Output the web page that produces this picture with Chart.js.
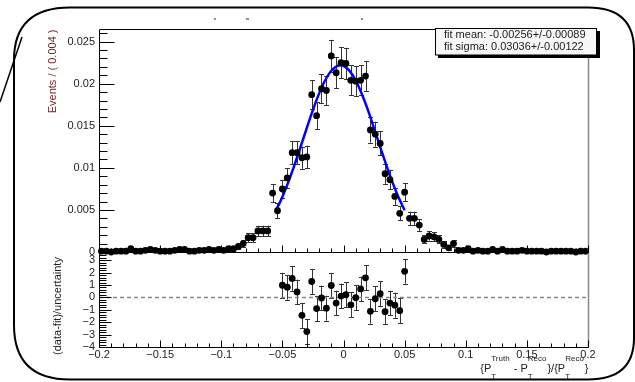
<!DOCTYPE html>
<html>
<head>
<meta charset="utf-8">
<script src="https://cdn.jsdelivr.net/npm/chart.js@4.4.0/dist/chart.umd.min.js"></script>
<style>
html,body{margin:0;padding:0;background:#fff}
#wrap{position:relative;width:635px;height:382px}
</style>
</head>
<body>
<div id="wrap"><canvas id="resChart" width="635" height="382"></canvas></div>
<script>
// histogram binning: 100 bins of width 0.004 between -0.2 and 0.2
const binLow = -0.2
const binWidth = 0.004

// Events / (0.004), one value per bin
const events = [
0.0001,0.0001,0.0000,0.0001,0.0001,0.0001,0.0004,0.0001,0.0001,0.0002,
0.0003,0.0002,0.0001,0.0001,0.0001,0.0002,0.0003,0.0003,0.0001,0.0001,
0.0002,0.0002,0.0003,0.0002,0.0003,0.0002,0.0004,0.0004,0.00066,0.0010,
0.0017,0.0017,0.0025,0.0025,0.0025,0.0070,0.0049,0.0075,0.0088,0.0118,
0.0118,0.0112,0.0113,0.0187,0.0162,0.0194,0.0192,0.0233,0.0213,0.0225,
0.0224,0.0204,0.0203,0.0204,0.0209,0.0145,0.0140,0.0129,0.0093,0.0086,
0.0066,0.0046,0.0071,0.0040,0.0040,0.0032,0.0015,0.0019,0.0018,0.0015,
0.0009,0.0005,0.0010,0.0002,0.0002,0.0004,0.0001,0.0002,0.0001,0.0001,
0.0003,0.0001,0.0003,0.0001,0.0001,0.0001,0.0002,0.0001,0.0001,0.0001,
0.0001,0.0000,0.0001,0.0001,0.0001,0.0001,0.0001,0.0000,0.0001,0.0001
]

const eventErrors = [
0.00012,0.00012,0.00012,0.00012,0.00012,0.00012,0.00025,0.00012,0.00012,0.00018,
0.00022,0.00018,0.00012,0.00012,0.00012,0.00018,0.00022,0.00022,0.00012,0.00012,
0.00018,0.00018,0.00022,0.00018,0.00022,0.00018,0.00025,0.00025,0.00032,0.0004,
0.00052,0.00052,0.00063,0.00063,0.00063,0.00105,0.00088,0.00108,0.00117,0.00136,
0.00136,0.00132,0.00133,0.00171,0.00159,0.00174,0.00173,0.00191,0.00182,0.00187,
0.00187,0.00179,0.00178,0.00179,0.00181,0.00151,0.00148,0.00142,0.0012,0.00116,
0.00102,0.00085,0.00105,0.00079,0.00079,0.00071,0.00048,0.00054,0.00053,0.00048,
0.00037,0.00028,0.00039,0.00018,0.00018,0.00025,0.00012,0.00018,0.00012,0.00012,
0.00022,0.00012,0.00022,0.00012,0.00012,0.00012,0.00018,0.00012,0.00012,0.00012,
0.00012,0.00012,0.00012,0.00012,0.00012,0.00012,0.00012,0.00012,0.00012,0.00012
]

// (data-fit)/uncertainty, bins 37..62
const residualFirstBin = 37
const residuals = [
0.98,0.82,1.53,0.44,-1.45,-2.76,1.28,-0.90,-0.05,-0.87,
0.96,-0.46,0.11,0.22,-0.60,-0.03,0.68,1.58,-1.12,-0.11,
0.30,-1.15,-0.46,-0.63,-1.07,2.10
]
const residualError = 1

// gaussian fit curve
const fitX = [-0.055,-0.05,-0.045,-0.04,-0.035,-0.03,-0.025,-0.02,-0.015,-0.01,-0.005,-0.00256,0,0.005,0.01,0.015,0.02,0.025,0.03,0.035,0.04,0.045,0.05]
const fitY = [0.0050,0.00655,0.00836,0.01038,0.01254,0.01476,0.01689,0.01882,0.02041,0.02154,0.02213,0.0222,0.02212,0.02152,0.02038,0.01878,0.01685,0.0147,0.01249,0.01033,0.00831,0.00651,0.00496]

const fitText = ["fit mean: -0.00256+/-0.00089", "fit sigma: 0.03036+/-0.00122"]

const xTicks = [-0.2,-0.15,-0.1,-0.05,0,0.05,0.1,0.15,0.2]
const yTicks = [0,0.005,0.01,0.015,0.02,0.025]
const resTicks = [-4,-3,-2,-1,0,1,2,3]

const FONT = "'Liberation Sans', Arial, sans-serif"
Chart.defaults.font.family = FONT

function fmt(v){
  let s = String(+Math.abs(v).toFixed(3))
  return v < 0 ? "\u2212" + s : s
}

function line(ctx, x1, y1, x2, y2){
  ctx.beginPath(); ctx.moveTo(x1, y1); ctx.lineTo(x2, y2); ctx.stroke()
}

const errorBars = {
  id: "errorBars",
  beforeDatasetsDraw(chart){
    const ctx = chart.ctx
    ctx.save()
    ctx.strokeStyle = "#333"
    ctx.lineWidth = 1
    chart.data.datasets.forEach((ds, i) => {
      if (!ds.errs) return
      const ys = chart.scales[ds.yAxisID]
      chart.getDatasetMeta(i).data.forEach((el, k) => {
        const v = ds.data[k].y, e = ds.errs[k]
        const px = Math.round(el.x) + 0.5
        const t = ys.getPixelForValue(v + e), b = ys.getPixelForValue(v - e)
        line(ctx, px, t, px, b)
        line(ctx, px - 2.5, Math.round(t) + 0.5, px + 2.5, Math.round(t) + 0.5)
        line(ctx, px - 2.5, Math.round(b) + 0.5, px + 2.5, Math.round(b) + 0.5)
      })
    })
    ctx.restore()
  }
}

const frame = {
  id: "frame",
  afterDraw(chart){
    const ctx = chart.ctx
    const a = chart.chartArea
    const sx = chart.scales.x, sy = chart.scales.y, sr = chart.scales.y2
    const split = Math.round(sy.bottom) + 0.5
    const L = Math.round(a.left) + 0.5, R = Math.round(a.right) + 0.5
    const T = Math.round(a.top) + 0.5, B = Math.round(a.bottom) + 0.5
    ctx.save()
    // frame
    ctx.strokeStyle = "#888"
    ctx.lineWidth = 1.5
    line(ctx, R, T, R, B)
    ctx.lineWidth = 1
    ctx.strokeStyle = "#000"
    line(ctx, L, T, R, T)
    line(ctx, L, T, L, B)
    line(ctx, L, split, R, split)
    line(ctx, L, B, R, B)
    // y ticks, upper pad
    for (let k = 0; k <= 26; k++){
      const py = Math.round(sy.getPixelForValue(k * 0.001)) + 0.5
      line(ctx, L, py, L + (k % 5 == 0 ? 15 : 8), py)
    }
    // y ticks, lower pad
    for (let k = -20; k <= 18; k++){
      const py = Math.round(sr.getPixelForValue(k * 0.2)) + 0.5
      line(ctx, L, py, L + (k % 5 == 0 ? 12 : 7), py)
    }
    // x ticks on both pads
    for (let k = -20; k <= 20; k++){
      const px = Math.round(sx.getPixelForValue(k * 0.01)) + 0.5
      const len = k % 5 == 0 ? 7 : 4
      line(ctx, px, split, px, split - len)
      line(ctx, px, B, px, B - len)
    }
    // axis titles
    ctx.font = "11px " + FONT
    ctx.textBaseline = "middle"
    ctx.fillStyle = "#7a2424"
    ctx.save()
    ctx.translate(53, T)
    ctx.rotate(-Math.PI / 2)
    ctx.textAlign = "right"
    ctx.fillText("Events / ( 0.004 )", 0, 0)
    ctx.restore()
    ctx.fillStyle = "#222"
    ctx.save()
    ctx.translate(58, 306)
    ctx.rotate(-Math.PI / 2)
    ctx.textAlign = "center"
    ctx.fillText("(data-fit)/uncertainty", 0, 0)
    ctx.restore()
    // x title with sub/superscripts
    const parts = [["{P"], ["Truth", "T"], [" - P"], ["Reco", "T"], ["}/{P"], ["Reco", "T"], ["}"]]
    const big = "11px " + FONT, small = "8px " + FONT
    ctx.textAlign = "left"
    ctx.textBaseline = "alphabetic"
    let w = 0
    parts.forEach(p => {
      if (p.length == 1){ ctx.font = big; w += ctx.measureText(p[0]).width }
      else { ctx.font = small; w += Math.max(ctx.measureText(p[0]).width, ctx.measureText(p[1]).width) + 1 }
    })
    let x = R - w
    ctx.fillStyle = "#222"
    parts.forEach(p => {
      if (p.length == 1){ ctx.font = big; ctx.fillText(p[0], x, 372); x += ctx.measureText(p[0]).width }
      else {
        ctx.font = small
        ctx.fillText(p[0], x, 361)
        ctx.fillText(p[1], x, 379)
        x += Math.max(ctx.measureText(p[0]).width, ctx.measureText(p[1]).width) + 1
      }
    })
    // fit result box
    ctx.fillStyle = "#000"
    ctx.fillRect(438, 31, 162, 27)
    ctx.fillStyle = "#f7f7f7"
    ctx.fillRect(435.5, 28.5, 161, 26.5)
    ctx.strokeStyle = "#000"
    ctx.strokeRect(435.5, 28.5, 161, 26.5)
    ctx.fillStyle = "#222"
    ctx.font = "11px " + FONT
    ctx.textBaseline = "middle"
    ctx.fillText(fitText[0], 444, 34.5)
    ctx.fillText(fitText[1], 444, 47)
    // clipped title remnants
    ctx.fillRect(214, 18.5, 2, 1)
    ctx.fillRect(246, 18.5, 3, 1)
    ctx.fillRect(361, 18.5, 2, 1)
    // rounded outline of the figure
    ctx.lineWidth = 2
    ctx.strokeStyle = "#000"
    ctx.beginPath()
    ctx.moveTo(70, 7.5)
    ctx.lineTo(588, 7.5)
    ctx.quadraticCurveTo(634, 7.5, 634, 50)
    ctx.lineTo(634, 338)
    ctx.quadraticCurveTo(634, 379.5, 588, 379.5)
    ctx.lineTo(70, 379.5)
    ctx.quadraticCurveTo(14, 379.5, 14, 325)
    ctx.lineTo(14, 60)
    ctx.quadraticCurveTo(14, 7.5, 70, 7.5)
    ctx.stroke()
    ctx.lineWidth = 1.5
    line(ctx, 22, 37, 0, 102)
    ctx.restore()
  }
}

const eventPoints = events.map((v, i) => ({x: binLow + binWidth * (i + 0.5), y: v}))
const residualPoints = residuals.map((v, k) => ({x: binLow + binWidth * (residualFirstBin + k + 0.5), y: v}))
const fitPoints = fitX.map((v, i) => ({x: v, y: fitY[i]}))

new Chart(
document.getElementById("resChart"),
{
type: "scatter",
data: {
datasets: [
{
label: "data",
data: eventPoints,
errs: eventErrors,
yAxisID: "y",
backgroundColor: "#000",
borderColor: "#000",
pointRadius: 3.4,
pointBorderWidth: 0,
clip: false
},
{
type: "line",
label: "fit",
data: fitPoints,
yAxisID: "y",
borderColor: "#0000ff",
borderWidth: 2.5,
pointRadius: 0,
cubicInterpolationMode: "monotone",
fill: false
},
{
label: "residuals",
data: residualPoints,
errs: residuals.map(() => residualError),
yAxisID: "y2",
backgroundColor: "#000",
borderColor: "#000",
pointRadius: 3.4,
pointBorderWidth: 0
},
{
type: "line",
label: "zero",
data: [{x: xTicks[0], y: 0}, {x: xTicks[xTicks.length - 1], y: 0}],
yAxisID: "y2",
borderColor: "#888",
borderWidth: 1.5,
borderDash: [4, 3],
pointRadius: 0
}
]
},
options: {
responsive: false,
animation: false,
devicePixelRatio: 1,
layout: {padding: {left: 0, right: 47, top: 29, bottom: 0}},
plugins: {legend: {display: false}, tooltip: {enabled: false}},
scales: {
x: {
type: "linear",
min: xTicks[0],
max: xTicks[xTicks.length - 1],
afterFit: s => { s.height = 35 },
afterBuildTicks: s => { s.ticks = xTicks.map(v => ({value: v})) },
grid: {display: false, drawTicks: false},
border: {display: false},
ticks: {padding: 1, color: "#222", font: {size: 11}, maxRotation: 0, autoSkip: false, callback: v => fmt(v)}
},
// lower pad listed first: left-side stacks are placed in reverse order
y2: {
type: "linear",
position: "left",
stack: "pads",
stackWeight: 95,
min: -4,
max: 3.66,
afterFit: s => { s.width = 99 },
afterBuildTicks: s => { s.ticks = resTicks.map(v => ({value: v})) },
grid: {display: false, drawTicks: false},
border: {display: false},
ticks: {padding: 4, color: "#222", font: {size: 11}, autoSkip: false, callback: v => fmt(v)}
},
y: {
type: "linear",
position: "left",
stack: "pads",
stackWeight: 223,
min: 0,
max: 0.0265,
afterFit: s => { s.width = 99 },
afterBuildTicks: s => { s.ticks = yTicks.map(v => ({value: v})) },
grid: {display: false, drawTicks: false},
border: {display: false},
ticks: {padding: 4, color: "#222", font: {size: 11}, autoSkip: false, callback: v => fmt(v)}
}
}
},
plugins: [errorBars, frame]
}
)
</script>
</body>
</html>
